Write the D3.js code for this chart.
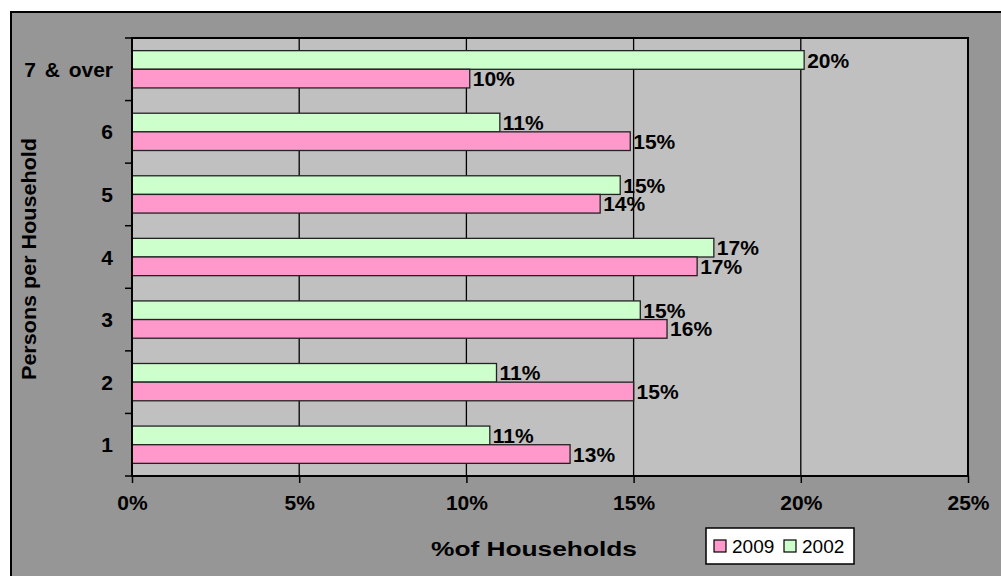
<!DOCTYPE html>
<html>
<head>
<meta charset="utf-8">
<script src="https://cdn.jsdelivr.net/npm/d3@7"></script>
<style>
  html, body { margin: 0; padding: 0; background: #ffffff; }
  svg { display: block; font-family: "Liberation Sans", Arial, sans-serif; }
</style>
</head>
<body>
<svg id="chart" width="1001" height="576"></svg>
<script>
const categories = ["1", "2", "3", "4", "5", "6", "7 & over"];
const series = ["2002", "2009"];
const values2002 = [10.7, 10.9, 15.2, 17.4, 14.6, 11.0, 20.1];
const values2009 = [13.1, 15.0, 16.0, 16.9, 14.0, 14.9, 10.1];
const xTicks = [0, 5, 10, 15, 20, 25];
const legendItems = ["2009", "2002"];
const colors = { "2009": "#ff99cc", "2002": "#ccffcc" };

const svg = d3.select("#chart");
const W = 1001, H = 576;
const margin = { left: 132, top: 38, right: W - 968, bottom: H - 476 };
const FS = 21;

// outer chart area
svg.append("rect").attr("x", 11).attr("y", 12).attr("width", W + 10).attr("height", H + 10)
  .attr("fill", "#969696").attr("stroke", "#000").attr("stroke-width", 2);

const x = d3.scaleLinear().domain([0, 25]).range([margin.left, W - margin.right]);
const y = d3.scaleBand().domain(categories.slice().reverse())
  .range([margin.top, H - margin.bottom]).paddingInner(0.404).paddingOuter(0.202);
const ys = d3.scaleBand().domain(series).range([0, y.bandwidth()]);

// plot area
svg.append("rect").attr("x", x(0)).attr("y", margin.top)
  .attr("width", x(25) - x(0)).attr("height", H - margin.bottom - margin.top)
  .attr("fill", "#c0c0c0");

// gridlines
svg.append("g").selectAll("line").data(xTicks.slice(1, -1)).join("line")
  .attr("x1", d => x(d)).attr("x2", d => x(d))
  .attr("y1", margin.top).attr("y2", H - margin.bottom)
  .attr("stroke", "#000").attr("stroke-width", 1.3);

// bars
const rows = categories.map((c, i) => ({ cat: c, "2002": values2002[i], "2009": values2009[i] }));
const g = svg.append("g");
rows.forEach(r => {
  series.forEach(s => {
    const by = y(r.cat) + ys(s);
    g.append("rect").attr("x", x(0)).attr("y", by)
      .attr("width", x(r[s]) - x(0)).attr("height", ys.bandwidth())
      .attr("fill", colors[s]).attr("stroke", "#222").attr("stroke-width", 1.3);
    g.append("text").attr("x", x(r[s]) + 3).attr("y", by + ys.bandwidth() / 2)
      .attr("dy", "0.36em").attr("font-size", FS).attr("font-weight", "bold")
      .attr("fill", "#000").text(Math.round(r[s]) + "%");
  });
});

// plot border
svg.append("rect").attr("x", x(0)).attr("y", margin.top)
  .attr("width", x(25) - x(0)).attr("height", H - margin.bottom - margin.top)
  .attr("fill", "none").attr("stroke", "#000").attr("stroke-width", 2);

// x axis
const xAxis = d3.axisBottom(x).tickValues(xTicks).tickFormat(d => d + "%").tickSize(7).tickPadding(12);
const xg = svg.append("g").attr("transform", `translate(0,${H - margin.bottom})`).call(xAxis);
xg.select(".domain").remove();
xg.selectAll("line").attr("stroke", "#000").attr("stroke-width", 1.5);
xg.selectAll("text").attr("font-size", FS).attr("font-weight", "bold").attr("fill", "#000")
  .attr("font-family", "Liberation Sans, Arial, sans-serif");

// y axis labels
const yg = svg.append("g");
yg.selectAll("text").data(categories).join("text")
  .attr("x", x(0) - 19).attr("y", d => y(d) + y.bandwidth() / 2)
  .attr("dy", "0.36em").attr("text-anchor", "end")
  .attr("font-size", FS).attr("font-weight", "bold")
  .attr("word-spacing", 3).text(d => d);
// y ticks at band boundaries
const step = y.step();
const bounds = d3.range(categories.length + 1).map(i => y.range()[0] + i * step);
yg.selectAll("line").data(bounds).join("line")
  .attr("x1", x(0) - 7).attr("x2", x(0)).attr("y1", d => d).attr("y2", d => d)
  .attr("stroke", "#000").attr("stroke-width", 1.5);

// axis titles
svg.append("text").attr("x", 534).attr("y", 548).attr("dy", "0.36em").attr("text-anchor", "middle")
  .attr("font-size", FS).attr("font-weight", "bold")
  .attr("textLength", 206).attr("lengthAdjust", "spacingAndGlyphs").text("%of Households");
svg.append("text").attr("transform", `translate(28,259) rotate(-90)`).attr("dy", "0.36em")
  .attr("text-anchor", "middle").attr("font-size", FS).attr("font-weight", "bold")
  .attr("textLength", 242).attr("lengthAdjust", "spacingAndGlyphs")
  .text("Persons per Household");

// legend
const lg = svg.append("g").attr("transform", "translate(706,528)");
lg.append("rect").attr("width", 148).attr("height", 36).attr("fill", "#fff")
  .attr("stroke", "#000").attr("stroke-width", 1.5);
legendItems.forEach((s, i) => {
  const ox = 8 + i * 70;
  lg.append("rect").attr("x", ox).attr("y", 12).attr("width", 12).attr("height", 12)
    .attr("fill", colors[s]).attr("stroke", "#000").attr("stroke-width", 1.2);
  lg.append("text").attr("x", ox + 18).attr("y", 18).attr("dy", "0.36em")
    .attr("font-size", 19).text(s);
});
</script>
</body>
</html>
